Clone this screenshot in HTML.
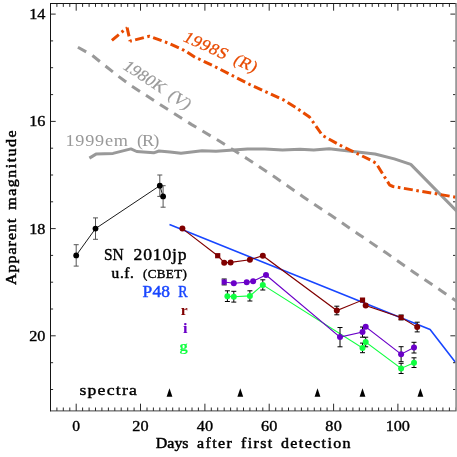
<!DOCTYPE html>
<html><head><meta charset="utf-8"><title>SN 2010jp light curve</title>
<style>html,body{margin:0;padding:0;background:#fff;}body{width:457px;height:457px;overflow:hidden;}svg{display:block;}svg{will-change:transform;}text{font-family:"Liberation Serif",serif;}</style>
</head><body>
<svg width="457" height="457" viewBox="0 0 457 457">
<rect x="0" y="0" width="457" height="457" fill="#ffffff"/>
<polyline fill="none" stroke="#999999" stroke-width="3" stroke-dasharray="9.5 7.2" points="77.9,47.3 91.9,55.1 105.0,65.6 118.1,76.1 131.3,85.8 162.8,106.3 191.7,124.6 219.3,141.0 247.9,159.2 275.5,177.6 303.0,196.7 330.6,215.1 358.5,234.2 386.1,252.8 413.7,272.2 441.5,290.9 457.0,301.5"/>
<polyline fill="none" stroke="#999999" stroke-width="3.0" stroke-linejoin="round" points="89.4,158.1 96.0,154.1 113.0,153.4 130.9,148.9 136.7,151.5 153.7,152.8 159.0,151.0 170.0,152.0 181.0,153.3 202.0,150.8 216.0,151.2 247.5,149.0 265.0,149.0 282.5,150.1 300.0,149.2 313.7,150.1 329.2,148.7 340.0,150.1 357.5,151.9 375.0,154.0 394.3,158.9 410.8,164.4 457.0,211.5"/>
<polyline fill="none" stroke="#e84a00" stroke-width="3" stroke-linejoin="bevel" stroke-dasharray="9.0 3.55 2.6 3.55" stroke-dashoffset="0" points="111.9,40.3 127.1,27.6"/>
<polyline fill="none" stroke="#e84a00" stroke-width="3" stroke-linejoin="bevel" stroke-dasharray="9.0 3.55 2.6 3.55" stroke-dashoffset="0" points="127.1,27.6 130.1,41.2"/>
<polyline fill="none" stroke="#e84a00" stroke-width="3" stroke-linejoin="bevel" stroke-dasharray="9.0 3.55 2.6 3.55" stroke-dashoffset="-5.2" points="130.1,41.2 149.4,36.2 165.0,41.8 181.0,48.8 186.0,51.4 195.0,57.3 200.0,59.5 216.8,67.6 250.0,84.6 284.0,100.2 296.0,107.6 309.5,117.0 322.5,135.5 341.0,145.7 371.0,160.3 376.0,163.2 389.8,185.2 393.0,186.5 457.0,197.4"/>
<polyline fill="none" stroke="#1846ff" stroke-width="1.6" stroke-linejoin="round" points="169.5,224.6 430.1,329.6 455.8,362.7"/>
<polyline fill="none" stroke="#000000" stroke-width="0.9" points="76.2,255.4 95.5,228.6 159.8,185.7 163.1,196.4"/>
<path d="M76.2 244.7V266.1M73.7 244.7H78.7M73.7 266.1H78.7" stroke="#555" stroke-width="1" fill="none"/>
<path d="M95.5 217.9V239.3M93.0 217.9H98.0M93.0 239.3H98.0" stroke="#555" stroke-width="1" fill="none"/>
<path d="M159.8 175.0V196.4M157.3 175.0H162.3M157.3 196.4H162.3" stroke="#555" stroke-width="1" fill="none"/>
<path d="M163.1 185.7V207.2M160.6 185.7H165.6M160.6 207.2H165.6" stroke="#555" stroke-width="1" fill="none"/>
<circle cx="76.2" cy="255.4" r="2.9" fill="#000000"/>
<circle cx="95.5" cy="228.6" r="2.9" fill="#000000"/>
<circle cx="159.8" cy="185.7" r="2.9" fill="#000000"/>
<circle cx="163.1" cy="196.4" r="2.9" fill="#000000"/>
<polyline fill="none" stroke="#10ff40" stroke-width="1.1" points="227.4,296.2 233.8,296.7 249.9,295.9 262.8,284.9 362.5,347.9 365.7,342.0 401.1,368.4 414.0,362.7"/>
<path d="M227.4 290.8V301.5M224.9 290.8H229.9M224.9 301.5H229.9" stroke="#000" stroke-width="1" fill="none"/>
<path d="M233.8 291.3V302.1M231.3 291.3H236.3M231.3 302.1H236.3" stroke="#000" stroke-width="1" fill="none"/>
<path d="M249.9 290.8V301.0M247.4 290.8H252.4M247.4 301.0H252.4" stroke="#000" stroke-width="1" fill="none"/>
<path d="M262.8 279.8V290.0M260.3 279.8H265.3M260.3 290.0H265.3" stroke="#000" stroke-width="1" fill="none"/>
<path d="M362.5 343.1V352.7M360.0 343.1H365.0M360.0 352.7H365.0" stroke="#000" stroke-width="1" fill="none"/>
<path d="M365.7 337.2V346.8M363.2 337.2H368.2M363.2 346.8H368.2" stroke="#000" stroke-width="1" fill="none"/>
<path d="M401.1 363.3V373.5M398.6 363.3H403.6M398.6 373.5H403.6" stroke="#000" stroke-width="1" fill="none"/>
<path d="M414.0 357.8V367.5M411.5 357.8H416.5M411.5 367.5H416.5" stroke="#000" stroke-width="1" fill="none"/>
<circle cx="227.4" cy="296.2" r="3.0" fill="#10ff40"/>
<circle cx="233.8" cy="296.7" r="3.0" fill="#10ff40"/>
<circle cx="249.9" cy="295.9" r="3.0" fill="#10ff40"/>
<circle cx="262.8" cy="284.9" r="3.0" fill="#10ff40"/>
<circle cx="362.5" cy="347.9" r="3.0" fill="#10ff40"/>
<circle cx="365.7" cy="342.0" r="3.0" fill="#10ff40"/>
<circle cx="401.1" cy="368.4" r="3.0" fill="#10ff40"/>
<circle cx="414.0" cy="362.7" r="3.0" fill="#10ff40"/>
<polyline fill="none" stroke="#6a00c8" stroke-width="1.1" points="224.2,282.0 233.8,283.3 246.7,282.2 253.1,281.2 266.0,275.0 340.0,337.1 362.5,332.1 365.7,326.7 401.1,354.2 414.0,347.6"/>
<path d="M224.2 279.0V284.9M221.7 279.0H226.7M221.7 284.9H226.7" stroke="#000" stroke-width="1" fill="none"/>
<path d="M340.0 327.5V346.8M337.5 327.5H342.5M337.5 346.8H342.5" stroke="#000" stroke-width="1" fill="none"/>
<path d="M362.5 327.0V337.2M360.0 327.0H365.0M360.0 337.2H365.0" stroke="#000" stroke-width="1" fill="none"/>
<path d="M401.1 346.7V361.7M398.6 346.7H403.6M398.6 361.7H403.6" stroke="#000" stroke-width="1" fill="none"/>
<path d="M414.0 342.3V353.0M411.5 342.3H416.5M411.5 353.0H416.5" stroke="#000" stroke-width="1" fill="none"/>
<rect x="221.6" y="279.4" width="5.2" height="5.2" fill="#6a00c8"/>
<circle cx="233.8" cy="283.3" r="3.0" fill="#6a00c8"/>
<circle cx="246.7" cy="282.2" r="3.0" fill="#6a00c8"/>
<circle cx="253.1" cy="281.2" r="3.0" fill="#6a00c8"/>
<circle cx="266.0" cy="275.0" r="3.0" fill="#6a00c8"/>
<circle cx="340.0" cy="337.1" r="3.0" fill="#6a00c8"/>
<circle cx="362.5" cy="332.1" r="3.0" fill="#6a00c8"/>
<circle cx="365.7" cy="326.7" r="3.0" fill="#6a00c8"/>
<circle cx="401.1" cy="354.2" r="3.0" fill="#6a00c8"/>
<circle cx="414.0" cy="347.6" r="3.0" fill="#6a00c8"/>
<polyline fill="none" stroke="#800000" stroke-width="1.1" points="182.4,228.6 217.7,255.7 224.2,262.7 230.6,262.4 249.9,259.7 262.8,255.7 336.8,310.5 362.5,300.1 365.7,305.6 401.1,317.5 417.2,327.1"/>
<path d="M336.8 306.2V314.8M334.3 306.2H339.3M334.3 314.8H339.3" stroke="#000" stroke-width="1" fill="none"/>
<path d="M401.1 315.0V319.9M398.6 315.0H403.6M398.6 319.9H403.6" stroke="#000" stroke-width="1" fill="none"/>
<path d="M417.2 322.2V331.9M414.7 322.2H419.7M414.7 331.9H419.7" stroke="#000" stroke-width="1" fill="none"/>
<circle cx="182.4" cy="228.6" r="3.0" fill="#800000"/>
<rect x="215.1" y="253.1" width="5.2" height="5.2" fill="#800000"/>
<circle cx="224.2" cy="262.7" r="3.0" fill="#800000"/>
<circle cx="230.6" cy="262.4" r="3.0" fill="#800000"/>
<circle cx="249.9" cy="259.7" r="3.0" fill="#800000"/>
<circle cx="262.8" cy="255.7" r="3.0" fill="#800000"/>
<circle cx="336.8" cy="310.5" r="3.0" fill="#800000"/>
<rect x="359.9" y="297.5" width="5.2" height="5.2" fill="#800000"/>
<circle cx="365.7" cy="305.6" r="3.0" fill="#800000"/>
<rect x="398.5" y="314.9" width="5.2" height="5.2" fill="#800000"/>
<circle cx="417.2" cy="327.1" r="3.0" fill="#800000"/>
<path d="M166.6 396.8L169.5 388.2L172.4 396.8Z" fill="#000"/>
<path d="M237.4 396.8L240.3 388.2L243.2 396.8Z" fill="#000"/>
<path d="M314.6 396.8L317.5 388.2L320.4 396.8Z" fill="#000"/>
<path d="M359.6 396.8L362.5 388.2L365.4 396.8Z" fill="#000"/>
<path d="M417.5 396.8L420.4 388.2L423.3 396.8Z" fill="#000"/>
<path d="M56.9 410.9v-3.4M56.9 3.5v3.4M63.3 410.9v-3.4M63.3 3.5v3.4M69.8 410.9v-3.4M69.8 3.5v3.4M76.2 410.9v-7.2M76.2 3.5v7.2M82.6 410.9v-3.4M82.6 3.5v3.4M89.1 410.9v-3.4M89.1 3.5v3.4M95.5 410.9v-3.4M95.5 3.5v3.4M101.9 410.9v-3.4M101.9 3.5v3.4M108.4 410.9v-3.4M108.4 3.5v3.4M114.8 410.9v-3.4M114.8 3.5v3.4M121.2 410.9v-3.4M121.2 3.5v3.4M127.7 410.9v-3.4M127.7 3.5v3.4M134.1 410.9v-3.4M134.1 3.5v3.4M140.5 410.9v-7.2M140.5 3.5v7.2M147.0 410.9v-3.4M147.0 3.5v3.4M153.4 410.9v-3.4M153.4 3.5v3.4M159.8 410.9v-3.4M159.8 3.5v3.4M166.3 410.9v-3.4M166.3 3.5v3.4M172.7 410.9v-3.4M172.7 3.5v3.4M179.1 410.9v-3.4M179.1 3.5v3.4M185.6 410.9v-3.4M185.6 3.5v3.4M192.0 410.9v-3.4M192.0 3.5v3.4M198.4 410.9v-3.4M198.4 3.5v3.4M204.9 410.9v-7.2M204.9 3.5v7.2M211.3 410.9v-3.4M211.3 3.5v3.4M217.7 410.9v-3.4M217.7 3.5v3.4M224.2 410.9v-3.4M224.2 3.5v3.4M230.6 410.9v-3.4M230.6 3.5v3.4M237.1 410.9v-3.4M237.1 3.5v3.4M243.5 410.9v-3.4M243.5 3.5v3.4M249.9 410.9v-3.4M249.9 3.5v3.4M256.4 410.9v-3.4M256.4 3.5v3.4M262.8 410.9v-3.4M262.8 3.5v3.4M269.2 410.9v-7.2M269.2 3.5v7.2M275.7 410.9v-3.4M275.7 3.5v3.4M282.1 410.9v-3.4M282.1 3.5v3.4M288.5 410.9v-3.4M288.5 3.5v3.4M295.0 410.9v-3.4M295.0 3.5v3.4M301.4 410.9v-3.4M301.4 3.5v3.4M307.8 410.9v-3.4M307.8 3.5v3.4M314.3 410.9v-3.4M314.3 3.5v3.4M320.7 410.9v-3.4M320.7 3.5v3.4M327.1 410.9v-3.4M327.1 3.5v3.4M333.6 410.9v-7.2M333.6 3.5v7.2M340.0 410.9v-3.4M340.0 3.5v3.4M346.4 410.9v-3.4M346.4 3.5v3.4M352.9 410.9v-3.4M352.9 3.5v3.4M359.3 410.9v-3.4M359.3 3.5v3.4M365.7 410.9v-3.4M365.7 3.5v3.4M372.2 410.9v-3.4M372.2 3.5v3.4M378.6 410.9v-3.4M378.6 3.5v3.4M385.0 410.9v-3.4M385.0 3.5v3.4M391.5 410.9v-3.4M391.5 3.5v3.4M397.9 410.9v-7.2M397.9 3.5v7.2M404.3 410.9v-3.4M404.3 3.5v3.4M410.8 410.9v-3.4M410.8 3.5v3.4M417.2 410.9v-3.4M417.2 3.5v3.4M423.6 410.9v-3.4M423.6 3.5v3.4M430.1 410.9v-3.4M430.1 3.5v3.4M436.5 410.9v-3.4M436.5 3.5v3.4M442.9 410.9v-3.4M442.9 3.5v3.4M449.4 410.9v-3.4M449.4 3.5v3.4M455.8 410.9v-3.4M455.8 3.5v3.4M50.5 14.1h5.2M455.6 14.1h-5.2M50.5 40.9h2.6M455.6 40.9h-2.6M50.5 67.7h2.6M455.6 67.7h-2.6M50.5 94.6h2.6M455.6 94.6h-2.6M50.5 121.4h5.2M455.6 121.4h-5.2M50.5 148.2h2.6M455.6 148.2h-2.6M50.5 175.0h2.6M455.6 175.0h-2.6M50.5 201.8h2.6M455.6 201.8h-2.6M50.5 228.6h5.2M455.6 228.6h-5.2M50.5 255.4h2.6M455.6 255.4h-2.6M50.5 282.2h2.6M455.6 282.2h-2.6M50.5 309.0h2.6M455.6 309.0h-2.6M50.5 335.8h5.2M455.6 335.8h-5.2M50.5 362.7h2.6M455.6 362.7h-2.6M50.5 389.5h2.6M455.6 389.5h-2.6" stroke="#2a2a2a" stroke-width="1" fill="none"/>
<rect x="455.2" y="3.0" width="1.8" height="408.4" fill="#999999"/>
<path d="M50.0 3.5H455.6M50.5 3.5V411.3" stroke="#151515" stroke-width="1" fill="none"/>
<path d="M50.0 410.9H455.6" stroke="#222" stroke-width="0.85" fill="none"/>
<text transform="translate(72.30 431.00) scale(1.076 1)" font-size="14.5" fill="#000" stroke="#000" stroke-width="0.35">0</text>
<text transform="translate(132.34 431.00) scale(1.120 1)" font-size="14.5" fill="#000" letter-spacing="0.14" stroke="#000" stroke-width="0.35">20</text>
<text transform="translate(196.68 431.00) scale(1.120 1)" font-size="14.5" fill="#000" letter-spacing="0.14" stroke="#000" stroke-width="0.35">40</text>
<text transform="translate(261.02 431.00) scale(1.120 1)" font-size="14.5" fill="#000" letter-spacing="0.14" stroke="#000" stroke-width="0.35">60</text>
<text transform="translate(325.36 431.00) scale(1.120 1)" font-size="14.5" fill="#000" letter-spacing="0.14" stroke="#000" stroke-width="0.35">80</text>
<text transform="translate(385.80 431.00) scale(1.120 1)" font-size="14.5" fill="#000" letter-spacing="-0.07" stroke="#000" stroke-width="0.35">100</text>
<text transform="translate(29.30 19.22) scale(1.120 1)" font-size="14.5" fill="#000" letter-spacing="-0.21" stroke="#000" stroke-width="0.35">14</text>
<text transform="translate(29.30 126.46) scale(1.120 1)" font-size="14.5" fill="#000" letter-spacing="-0.21" stroke="#000" stroke-width="0.35">16</text>
<text transform="translate(29.30 233.70) scale(1.120 1)" font-size="14.5" fill="#000" letter-spacing="-0.21" stroke="#000" stroke-width="0.35">18</text>
<text transform="translate(29.30 340.94) scale(1.120 1)" font-size="14.5" fill="#000" letter-spacing="-0.21" stroke="#000" stroke-width="0.35">20</text>
<text transform="translate(155.80 447.70) scale(1.140 1)" font-size="14" fill="#000" letter-spacing="0.00" stroke="#000" stroke-width="0.45">Days</text>
<text transform="translate(197.00 447.70) scale(1.140 1)" font-size="14" fill="#000" letter-spacing="1.25" stroke="#000" stroke-width="0.45">after</text>
<text transform="translate(241.00 447.70) scale(1.140 1)" font-size="14" fill="#000" letter-spacing="1.23" stroke="#000" stroke-width="0.45">first</text>
<text transform="translate(281.00 447.70) scale(1.140 1)" font-size="14" fill="#000" letter-spacing="1.22" stroke="#000" stroke-width="0.45">detection</text>
<text transform="translate(16.00 284.90) rotate(-90) scale(1.140 1)" font-size="14" fill="#000" letter-spacing="0.87" stroke="#000" stroke-width="0.45">Apparent</text>
<text transform="translate(16.00 209.70) rotate(-90) scale(1.140 1)" font-size="14" fill="#000" letter-spacing="1.32" stroke="#000" stroke-width="0.45">magnitude</text>
<text transform="translate(65.40 145.50) scale(1.140 1)" font-size="16" fill="#999999" letter-spacing="0.68">1999em</text>
<text transform="translate(136.90 145.50) scale(1.140 1)" font-size="16" fill="#999999" letter-spacing="-0.77">(R)</text>
<text transform="translate(121.60 67.90) rotate(33) skewX(-10) scale(1.050 1)" font-size="16.5" fill="#999999" letter-spacing="-0.03" stroke="#999999" stroke-width="0.2">1980K</text>
<text transform="translate(166.89 97.31) rotate(33) skewX(-10) scale(1.050 1)" font-size="16.5" fill="#999999" letter-spacing="-0.52" stroke="#999999" stroke-width="0.2">(V)</text>
<text transform="translate(181.80 40.60) rotate(24) skewX(-10) scale(1.050 1)" font-size="16.5" fill="#e84a00" letter-spacing="0.56" stroke="#e84a00" stroke-width="0.25">1998S</text>
<text transform="translate(232.23 63.05) rotate(24) skewX(-10) scale(1.050 1)" font-size="16.5" fill="#e84a00" letter-spacing="0.13" stroke="#e84a00" stroke-width="0.25">(R)</text>
<text transform="translate(103.90 259.60) scale(0.920 1)" font-size="16.8" fill="#000" letter-spacing="0.13" stroke="#000" stroke-width="0.4">SN</text>
<text transform="translate(133.50 259.60) scale(1.050 1)" font-size="16.8" fill="#000" letter-spacing="0.77" stroke="#000" stroke-width="0.4">2010jp</text>
<text transform="translate(111.60 278.20) scale(1.100 1)" font-size="14" fill="#000" letter-spacing="0.56" stroke="#000" stroke-width="0.45">u.f.</text>
<text transform="translate(142.90 278.30)" font-size="13" fill="#000" letter-spacing="0.41" stroke="#000" stroke-width="0.4">(CBET)</text>
<text transform="translate(142.60 296.80) scale(1.100 1)" font-size="15.8" fill="#1846ff" letter-spacing="0.12" stroke="#1846ff" stroke-width="0.45">P48</text>
<text transform="translate(178.30 296.80) scale(0.879 1)" font-size="15.8" fill="#1846ff" stroke="#1846ff" stroke-width="0.45">R</text>
<text transform="translate(180.70 314.60) scale(1.000 1)" font-size="15.5" fill="#800000" font-weight="bold">r</text>
<text transform="translate(183.00 333.30) scale(1.060 1)" font-size="15.5" fill="#6a00c8" font-weight="bold">i</text>
<text transform="translate(179.60 351.00) scale(1.071 1)" font-size="15.5" fill="#10ff40" font-weight="bold">g</text>
<text transform="translate(79.40 394.60) scale(1.140 1)" font-size="15.5" fill="#000" letter-spacing="1.10" stroke="#000" stroke-width="0.4">spectra</text>
</svg>
</body></html>
